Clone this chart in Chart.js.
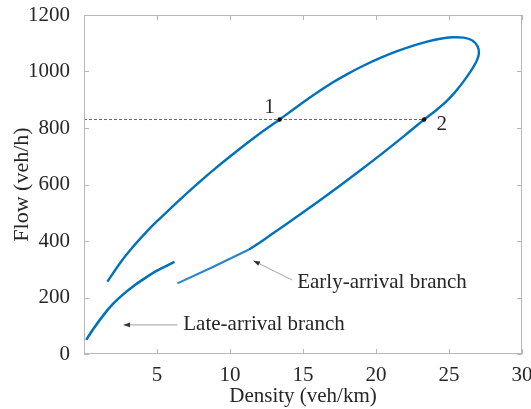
<!DOCTYPE html>
<html>
<head>
<meta charset="utf-8">
<script src="https://cdn.jsdelivr.net/npm/chart.js@4.4.1/dist/chart.umd.min.js"></script>
<style>
  html, body { margin: 0; padding: 0; background: #fff; }
  #wrap { width: 531px; height: 409px; }
</style>
</head>
<body>
<div id="wrap"><canvas id="fd"></canvas></div>
<script>
/* ── Data ── */
// late-arrival branch (short lower-left curve)
const lateDensity = [0.15, 0.6, 1.4, 2.0, 2.7, 3.4, 4.1, 5.0, 6.2];
const lateFlow    = [50, 86, 142, 178, 212, 241, 266, 295, 326];

// main loop: upper side out to the tip, then back down to the kink
const loopDensity = [1.6, 2.5, 3.4, 4.2, 5.0, 6.0, 7.0, 8.0, 9.0, 10.0, 11.0, 12.0, 13.4, 14.5, 15.7, 17.0,
                     18.0, 19.2, 20.3, 21.4, 22.5, 23.5, 24.4, 25.2, 26.0, 26.6, 26.95, 27.05, 26.9, 26.5, 26.0,
                     25.4, 24.8, 24.1, 23.3, 22.0, 20.5, 19.0, 17.5, 16.0, 14.5, 13.0, 12.0, 11.3];
const loopFlow    = [256, 324, 382, 428, 470, 519, 567, 613, 657, 699, 740, 779, 830, 872, 916, 960,
                     990, 1022, 1048, 1071, 1091, 1106, 1116, 1121, 1120, 1110, 1090, 1065, 1038, 1002, 965,
                     926, 893, 862, 830, 775, 713, 653, 595, 538, 483, 429, 393, 370];

// early-arrival branch (straight tail below the kink)
const earlyDensity = [11.3, 8.9, 6.4];
const earlyFlow    = [370, 310, 250];

// equal-flow reference line and marked points 1 & 2
const refFlow     = 830;
const markDensity = [13.4, 23.3];
const markLabels  = ['1', '2'];

const xTicks = [0, 5, 10, 15, 20, 25, 30];
const yTicks = [0, 200, 400, 600, 800, 1000, 1200];

const FONT = "'Liberation Serif', 'Times New Roman', serif";
const BLUE = '#0072BD';
const TXT  = '#262626';
const AXIS = '#b8b8b8';

function pts(xs, ys) { return xs.map((x, i) => ({ x, y: ys[i] })); }

/* ── Box, inward ticks, annotations ── */
const decor = {
  id: 'decor',
  afterDraw(chart) {
    const { ctx, chartArea: a, scales: { x, y } } = chart;
    ctx.save();
    ctx.strokeStyle = AXIS;
    ctx.lineWidth = 1;
    ctx.strokeRect(a.left + 0.5, a.top + 0.5, a.right - a.left - 1, a.bottom - a.top - 1);
    ctx.beginPath();
    xTicks.forEach(v => {
      const px = Math.round(x.getPixelForValue(v)) + 0.5;
      ctx.moveTo(px, a.bottom); ctx.lineTo(px, a.bottom - 5);
      ctx.moveTo(px, a.top);    ctx.lineTo(px, a.top + 5);
    });
    yTicks.forEach(v => {
      const py = Math.round(y.getPixelForValue(v)) + 0.5;
      ctx.moveTo(a.left, py);  ctx.lineTo(a.left + 5, py);
      ctx.moveTo(a.right, py); ctx.lineTo(a.right - 5, py);
    });
    ctx.stroke();

    // markers + labels
    ctx.fillStyle = '#111';
    markDensity.forEach(d => {
      const px = x.getPixelForValue(d), py = y.getPixelForValue(refFlow);
      ctx.beginPath(); ctx.arc(px, py, 2.2, 0, Math.PI * 2); ctx.fill();
    });
    ctx.fillStyle = TXT;
    ctx.font = '21px ' + FONT;
    ctx.textBaseline = 'middle';
    ctx.textAlign = 'center';
    ctx.fillText(markLabels[0], x.getPixelForValue(12.7), y.getPixelForValue(872));
    ctx.fillText(markLabels[1], x.getPixelForValue(24.5), y.getPixelForValue(812));

    // annotation arrows
    arrow(ctx, x.getPixelForValue(6.4), y.getPixelForValue(103), x.getPixelForValue(2.7), y.getPixelForValue(103));
    arrow(ctx, x.getPixelForValue(14.25), y.getPixelForValue(262), x.getPixelForValue(11.6), y.getPixelForValue(330));
    ctx.fillStyle = TXT;
    ctx.textAlign = 'left';
    ctx.fillText('Late-arrival branch', x.getPixelForValue(6.8), y.getPixelForValue(103));
    ctx.fillText('Early-arrival branch', x.getPixelForValue(14.6), y.getPixelForValue(252));
    ctx.restore();
  }
};

function arrow(ctx, x0, y0, x1, y1) {
  const ang = Math.atan2(y1 - y0, x1 - x0);
  ctx.strokeStyle = '#888';
  ctx.lineWidth = 0.8;
  ctx.beginPath(); ctx.moveTo(x0, y0); ctx.lineTo(x1, y1); ctx.stroke();
  ctx.fillStyle = '#333';
  ctx.beginPath();
  ctx.moveTo(x1, y1);
  ctx.lineTo(x1 - 7 * Math.cos(ang - 0.35), y1 - 7 * Math.sin(ang - 0.35));
  ctx.lineTo(x1 - 7 * Math.cos(ang + 0.35), y1 - 7 * Math.sin(ang + 0.35));
  ctx.closePath(); ctx.fill();
}

/* ── Chart ── */
new Chart(document.getElementById('fd'), {
  type: 'scatter',
  data: {
    datasets: [
      {
        label: 'ref', data: [{ x: 0, y: refFlow }, { x: markDensity[1], y: refFlow }],
        showLine: true, borderColor: '#555', borderWidth: 0.9, borderDash: [3, 2], pointRadius: 0
      },
      {
        label: 'loop', data: pts(loopDensity, loopFlow),
        showLine: true, borderColor: BLUE, borderWidth: 2.4, tension: 0.3, pointRadius: 0
      },
      {
        label: 'early', data: pts(earlyDensity, earlyFlow),
        showLine: true, borderColor: '#2a86c8', borderWidth: 2.2, tension: 0, pointRadius: 0
      },
      {
        label: 'late', data: pts(lateDensity, lateFlow),
        showLine: true, borderColor: BLUE, borderWidth: 2.6, tension: 0.3, pointRadius: 0
      }
    ]
  },
  options: {
    responsive: true,
    maintainAspectRatio: false,
    animation: false,
    layout: { padding: { top: 15, right: 9, left: 0, bottom: 0 } },
    plugins: { legend: { display: false }, tooltip: { enabled: false } },
    scales: {
      x: {
        type: 'linear', min: 0, max: 30,
        afterBuildTicks: s => { s.ticks = xTicks.map(v => ({ value: v })); },
        afterFit: s => { s.height = 55; s.paddingLeft = 0; s.paddingRight = 0; },
        grid: { display: false },
        border: { display: false },
        ticks: {
          color: TXT, font: { family: FONT, size: 21 }, padding: 1,
          maxRotation: 0, callback: v => v === 0 ? null : String(v)
        },
        title: { display: true, text: 'Density (veh/km)', color: TXT, font: { family: FONT, size: 21 }, padding: 0 }
      },
      y: {
        type: 'linear', min: 0, max: 1200,
        afterBuildTicks: s => { s.ticks = yTicks.map(v => ({ value: v })); },
        afterFit: s => { s.width = 84; s.paddingTop = 0; s.paddingBottom = 0; },
        grid: { display: false },
        border: { display: false },
        ticks: { color: TXT, font: { family: FONT, size: 21 }, padding: 6, callback: v => String(v) },
        title: { display: true, text: 'Flow (veh/h)', color: TXT, font: { family: FONT, size: 22 }, padding: { top: 9, bottom: 0 } }
      }
    }
  },
  plugins: [decor]
});
</script>
</body>
</html>
